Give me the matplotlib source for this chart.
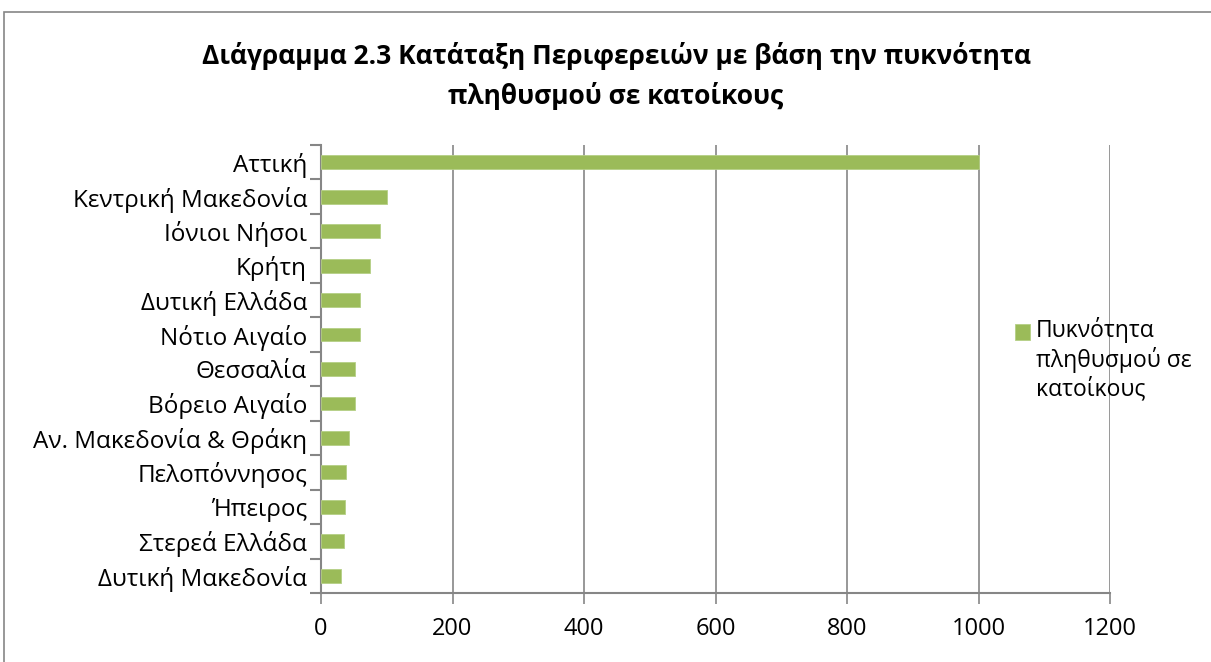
import matplotlib.pyplot as plt
from matplotlib.patches import Rectangle
from matplotlib.legend_handler import HandlerPatch
from matplotlib.ticker import FixedLocator, NullFormatter

plt.rcParams['font.family'] = ['Open Sans', 'DejaVu Sans']

regions = ['Αττική', 'Κεντρική Μακεδονία', 'Ιόνιοι Νήσοι', 'Κρήτη', 'Δυτική Ελλάδα',
           'Νότιο Αιγαίο', 'Θεσσαλία', 'Βόρειο Αιγαίο', 'Αν. Μακεδονία & Θράκη',
           'Πελοπόννησος', 'Ήπειρος', 'Στερεά Ελλάδα', 'Δυτική Μακεδονία']
density = [1000, 100, 90, 75, 60, 59, 52, 51.5, 43, 38, 37, 35.5, 30.5]
xticks = [0, 200, 400, 600, 800, 1000, 1200]
series_name = 'Πυκνότητα\nπληθυσμού σε\nκατοίκους'
title = 'Διάγραμμα 2.3 Κατάταξη Περιφερειών με βάση την πυκνότητα\nπληθυσμού σε κατοίκους'

W, H = 1211, 662
fig = plt.figure(figsize=(W / 100, H / 100), dpi=100)
ax = fig.add_axes([321 / W, 1 - 593 / H, (1110 - 321) / W, (593 - 145) / H])

grey = '#868686'
green = '#9BBB59'
n = len(regions)
ypos = list(range(n))
ax.barh(ypos, density, height=0.4, color=green, edgecolor='#b5cf85', linewidth=0.6, zorder=3)
ax.set_ylim(n - 0.5, -0.5)
ax.set_xlim(0, 1200)

ax.set_yticks(ypos)
ax.set_yticklabels(regions, fontsize=17.5)
ax.yaxis.set_minor_locator(FixedLocator([i - 0.5 for i in range(n + 1)]))
ax.yaxis.set_minor_formatter(NullFormatter())
ax.tick_params(axis='y', which='major', length=0, pad=10)
ax.tick_params(axis='y', which='minor', length=8, width=1.5, color=grey)

ax.set_xticks(xticks)
ax.set_xticklabels([str(v) for v in xticks], fontsize=17)
ax.tick_params(axis='x', length=8, width=1.2, color=grey, pad=9)

ax.grid(axis='x', color=grey, linewidth=1.2, zorder=0)
for s in ['top', 'right']:
    ax.spines[s].set_visible(False)
for s in ['left', 'bottom']:
    ax.spines[s].set_color(grey)
    ax.spines[s].set_linewidth(1.5)

fig.suptitle(title, fontsize=19, fontweight='bold', x=616 / W, y=1 - 42 / H, va='top',
             linespacing=1.55)


def top_square(legend, orig_handle, xdescent, ydescent, width, height, fontsize):
    # put the square beside the first line of the wrapped label
    return Rectangle((-xdescent, -ydescent + 1.25 * fontsize), width, height)


ax.legend([ax.patches[0]], [series_name], loc='upper left', bbox_to_anchor=(1004 / W, 1 - 306 / H),
          bbox_transform=fig.transFigure, frameon=False, fontsize=16.5, handlelength=0.65,
          handleheight=0.65, handletextpad=0.25, borderpad=0, labelspacing=0.3,
          handler_map={Rectangle: HandlerPatch(patch_func=top_square)})

fig.patches.append(Rectangle((3.5 / W, -0.1), 1.2, 1.1 - 11.5 / H, transform=fig.transFigure,
                             fill=False, edgecolor=grey, linewidth=1.2))

fig.savefig('out.png', dpi=100)
